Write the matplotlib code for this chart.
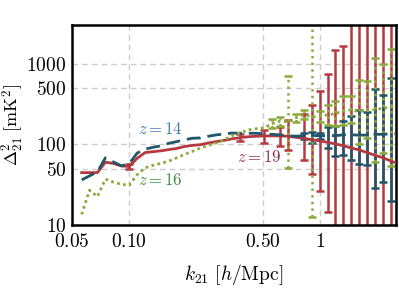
import numpy as np
import matplotlib
matplotlib.use("Agg")
import matplotlib.pyplot as plt
from matplotlib.ticker import FixedLocator, FixedFormatter, NullLocator

plt.rcParams['mathtext.fontset'] = 'cm'
plt.rcParams['font.family'] = ['DejaVu Serif']

# k bins [h/Mpc]
k = [0.0563, 0.0619, 0.0681, 0.0750, 0.0825, 0.0908, 0.0999, 0.1100, 0.1211, 0.1332,
     0.1466, 0.1614, 0.1776, 0.1954, 0.2151, 0.2367, 0.2605, 0.2867, 0.3155, 0.3472,
     0.3821, 0.4205, 0.4628, 0.5093, 0.5605, 0.6168, 0.6788, 0.7470, 0.8222, 0.9048,
     0.9959, 1.096, 1.206, 1.327, 1.461, 1.608, 1.769, 1.947, 2.143, 2.358, 2.595]

nan = np.nan
# z = 19 (red, solid)
p19 = [44.6, 44.6, 44.6, 60, 58, 54, 53, 67, 79, 81,
       83, 86, 89, 94, 97, 99, 104, 108, 112, 117,
       121, 124, 126, 127, 127, 127, 126, 122, 119, 114,
       110, 106, 101, 96, 90, 85, 79, 73, 68, 62, 57]
up19 = [nan]*6 + [57] + [nan]*13 + [135, nan, nan, 151, nan, 166, 198, nan, 239, 303,
        453, 751, 1493, 1675, 1e5, 1e5, 1e5, 1e5, 1e5, 1e5, 1e5]
lo19 = [nan]*6 + [49] + [nan]*13 + [111, nan, nan, 105, nan, 96, 84, nan, 63, 42.6,
        26.4, 14.4, 1, 1, 1, 1, 1, 1, 1, 1, 1]

# z = 14 (teal, dashed)
p14 = [36.2, 40.6, 45.5, 68, 60.6, 54, 57.3, 77.8, 87, 91.8,
       95.8, 103, 108, 114, 119, 120, 126, 131, 134, 138,
       137, 137, 137, 135, 133, 131, 127.6, 126, 127.6, 129,
       127.6, 128, 128, 131, 131, 130, 130, 133, 133, 135, 135]
up14 = [nan]*28 + [140, 144, 140, 164, 170, 192, 226, 268, 248, 485, 412, 664, 1089]
lo14 = [nan]*28 + [115, 104, 116, 90, 72.6, 74, 63.3, 57.3, 55.6, 28.6, 34.2, 19.9, 13.1]

# z = 16 (green, dotted)
p16 = [13.5, 27, 22.5, 37, 34, 32, 31, 42, 51, 55,
       58, 62, 68, 75, 82, 90, 97, 104, 114, 128,
       139, 151, 156, 160, 180, 193, 190, 213, 232, 220,
       221, 232, 239, 261, 268, 253, 268, 268, 280, 288, 301]
up16 = [nan]*24 + [205, 220, 695, 240, 265, 1e5, 260, 310, 340, 393, 393, 633, 603, 1178, 991, 1523, 1807]
lo16 = [nan]*24 + [158, 170, 50.6, 190, 205, 12.7, 188, 174, 168, 173, 183, 101, 119, 61, 79, 54, 50]

c19 = '#b5393f'
c14 = '#1f5668'
c16 = '#8cab3c'

fig = plt.figure(figsize=(3.99, 2.99), dpi=100)
ax = fig.add_axes([0.180, 0.2475, 0.812, 0.6685])


def draw(vals, up, lo, color, ls, ebls, z):
    kk = np.array(k)
    v = np.array(vals, dtype=float)
    u = np.array(up, dtype=float)
    l = np.array(lo, dtype=float)
    m = ~np.isnan(u)
    eb = ax.errorbar(kk[m], v[m], yerr=[v[m] - l[m], u[m] - v[m]], fmt='none',
                     ecolor=color, elinewidth=1.8, capsize=3, capthick=1.8, zorder=z)
    for bl in eb[2]:
        bl.set_linestyle(ebls)
    ax.plot(kk, v, color=color, ls=ls, lw=2.0, zorder=z + 1)


draw(p19, up19, lo19, c19, '-', '-', 2)
draw(p14, up14, lo14, c14, (0, (5, 2.5)), '-', 2.2)
draw(p16, up16, lo16, c16, (0, (1, 1.2)), ':', 2.4)

ax.set_xscale('log')
ax.set_yscale('log')
ax.set_xlim(0.05, 2.5)
ax.set_ylim(10, 3000)

xt = [0.05, 0.1, 0.5, 1]
ax.xaxis.set_major_locator(FixedLocator(xt))
ax.xaxis.set_major_formatter(FixedFormatter([r'$0.05$', r'$0.10$', r'$0.50$', r'$1$']))
ax.xaxis.set_minor_locator(NullLocator())
yt = [10, 50, 100, 500, 1000]
ax.yaxis.set_major_locator(FixedLocator(yt))
ax.yaxis.set_major_formatter(FixedFormatter([r'$10$', r'$50$', r'$100$', r'$500$', r'$1000$']))
ax.yaxis.set_minor_locator(NullLocator())
ax.tick_params(length=0, labelsize=14)
ax.tick_params(axis='x', pad=6)
ax.tick_params(axis='y', pad=4)

ax.grid(True, color='#cccccc', ls=(0, (4, 3)), lw=1.0, zorder=0)
for s in ax.spines.values():
    s.set_linewidth(1.8)

ax.set_xlabel(r'$k_{21}\ [h/\mathrm{Mpc}]$', fontsize=14, labelpad=8)
ax.set_ylabel(r'$\Delta^2_{21}\ [\mathrm{mK}^2]$', fontsize=13)
ax.yaxis.set_label_coords(-0.14, 0.5)

ax.text(0.146, 151, r'$z=14$', color='#3a78b2', fontsize=12, ha='center', va='center')
ax.text(0.146, 35.2, r'$z=16$', color='#3a8c3a', fontsize=12, ha='center', va='center')
ax.text(0.479, 68, r'$z=19$', color='#8e2c4c', fontsize=12, ha='center', va='center')

fig.savefig('out.png', dpi=100)
